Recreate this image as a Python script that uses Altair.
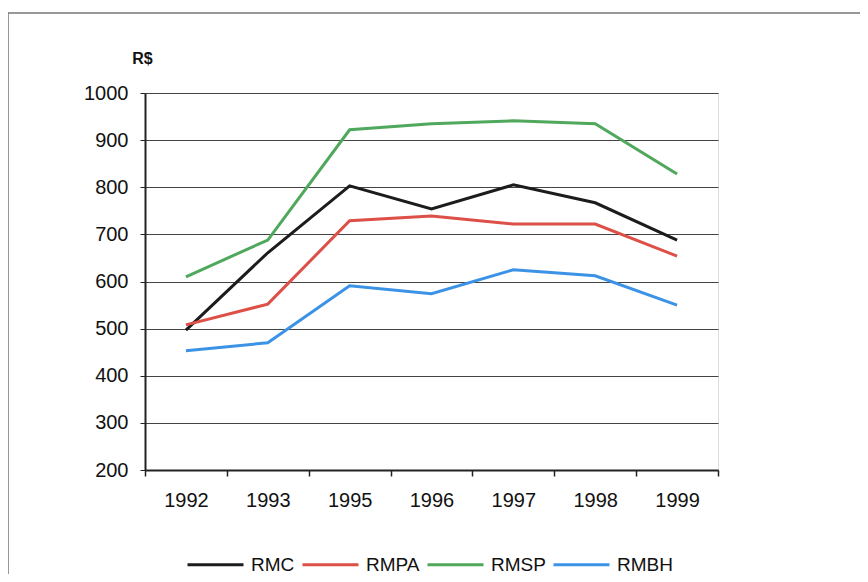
import altair as alt
import pandas as pd

years = ["1992", "1993", "1995", "1996", "1997", "1998", "1999"]
series = ["RMC", "RMPA", "RMSP", "RMBH"]
rmc = [497, 661, 803, 754, 805, 767, 688]
rmpa = [508, 552, 729, 739, 722, 722, 654]
rmsp = [610, 688, 922, 935, 941, 935, 828]
rmbh = [453, 470, 591, 574, 625, 612, 550]
colors = ["#1c1c1c", "#dc5048", "#4fa85c", "#3c93e6"]
y_ticks = [200, 300, 400, 500, 600, 700, 800, 900, 1000]

rows = []
for name, vals in zip(series, [rmc, rmpa, rmsp, rmbh]):
    for i, (yr, v) in enumerate(zip(years, vals)):
        rows.append({"Ano": yr, "Serie": name, "Valor": v, "ordem": series.index(name)})
df = pd.DataFrame(rows)

FONT = "Liberation Sans"

lines = alt.Chart(df).mark_line(strokeWidth=3).encode(
    x=alt.X("Ano:O", sort=years, bandPosition=0.5,
            scale=alt.Scale(type="band", paddingInner=0, paddingOuter=0),
            axis=alt.Axis(title=None, labelAngle=0, tickBand="extent", grid=False,
                          domainColor="#222", domainWidth=2, tickColor="#222",
                          tickSize=6, tickWidth=1.5, labelFontSize=20, labelFont=FONT,
                          labelColor="#111", labelPadding=14)),
    y=alt.Y("Valor:Q", scale=alt.Scale(domain=[200, 1000], nice=False, zero=False),
            axis=alt.Axis(values=y_ticks, format="d", title="R$", titleAngle=0,
                          titleX=-3, titleY=-35,
                          titleAlign="center", titleBaseline="middle", titleFont=FONT,
                          titleFontSize=16, titleFontWeight="bold", titleColor="#111",
                          labelFontSize=20, labelFont=FONT, labelColor="#111", labelPadding=12,
                          grid=True, gridColor="#444", gridWidth=1, domainColor="#222",
                          domainWidth=2, tickColor="#222", tickSize=5)),
    color=alt.Color("Serie:N", sort=series,
                    scale=alt.Scale(domain=series, range=colors),
                    legend=alt.Legend(title=None, orient="none", legendX=41, legendY=442,
                                      direction="horizontal", symbolType="stroke",
                                      symbolSize=3136, symbolStrokeWidth=3,
                                      labelFontSize=19, labelFont=FONT, labelColor="#111",
                                      labelOffset=6, columnPadding=1)),
    order="ordem:Q",
)

frame = alt.Chart(pd.DataFrame({"f": [0]})).mark_rect(
    fill=None, stroke="#777", strokeWidth=1.5
).encode(
    x=alt.value(-137), x2=alt.value(760), y=alt.value(-80), y2=alt.value(520)
)

chart = alt.layer(frame, lines).properties(
    width=573, height=377,
    padding={"left": 137, "top": 85, "right": 142, "bottom": 104},
    autosize=alt.AutoSizeParams(type="none"),
).configure_view(stroke="#222", strokeWidth=2).configure(background="white")

chart.save("out.html", embed_options={"renderer": "svg", "actions": False})
